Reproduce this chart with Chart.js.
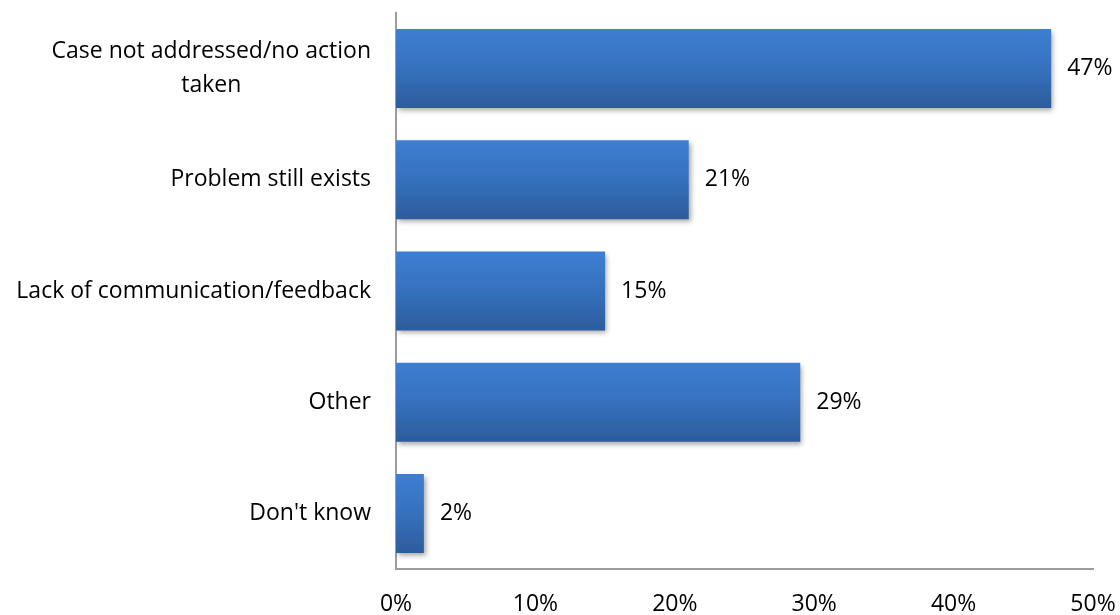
<!DOCTYPE html>
<html>
<head>
<meta charset="utf-8">
<script src="https://cdn.jsdelivr.net/npm/chart.js@4/dist/chart.umd.min.js"></script>
<style>
  html, body { margin: 0; padding: 0; background: #fff; }
  #wrap { width: 1120px; height: 615px; }
</style>
</head>
<body>
<div id="wrap"><canvas id="reasonsChart"></canvas></div>
<script>
var categories = [
  ['Case not addressed/no action', 'taken'],
  ['Problem still exists'],
  ['Lack of communication/feedback'],
  ['Other'],
  ["Don't know"]
];
var shares = [47, 21, 15, 29, 2];
var xTicks = [0, 10, 20, 30, 40, 50];

var FONT = "'Open Sans', 'Liberation Sans', sans-serif";
var FONT_SIZE = 23;
var BAR_PCT = 0.71;

function barGradient(context) {
  var chart = context.chart;
  var yScale = chart.scales.y;
  if (!yScale || !chart.chartArea) return '#3a74c2';
  var mid = yScale.getPixelForValue(context.dataIndex);
  var half = yScale.height / categories.length * BAR_PCT / 2;
  var g = chart.ctx.createLinearGradient(0, mid - half, 0, mid + half);
  g.addColorStop(0, '#3e7fd2');
  g.addColorStop(0.5, '#3671be');
  g.addColorStop(1, '#2d5c9b');
  return g;
}

// soft drop shadow under the bars
var barShadow = {
  id: 'barShadow',
  beforeDatasetsDraw: function(chart) {
    var ctx = chart.ctx;
    ctx.save();
    ctx.shadowColor = 'rgba(0,0,0,0.35)';
    ctx.shadowBlur = 5;
    ctx.shadowOffsetX = 2;
    ctx.shadowOffsetY = 3;
  },
  afterDatasetsDraw: function(chart) {
    chart.ctx.restore();
  }
};

// category names: each block centred line by line, block right-aligned to the axis
var categoryLabels = {
  id: 'categoryLabels',
  afterDraw: function(chart) {
    var ctx = chart.ctx;
    var yScale = chart.scales.y;
    var right = chart.chartArea.left - 25;
    var lineH = 34;
    ctx.save();
    ctx.font = FONT_SIZE + 'px ' + FONT;
    ctx.fillStyle = '#000';
    ctx.textAlign = 'center';
    ctx.textBaseline = 'middle';
    categories.forEach(function(lines, i) {
      var widest = 0;
      lines.forEach(function(l) { widest = Math.max(widest, ctx.measureText(l).width); });
      var cx = right - widest / 2;
      var cy = yScale.getPixelForValue(i);
      var y0 = cy - (lines.length - 1) * lineH / 2;
      lines.forEach(function(l, k) { ctx.fillText(l, cx, y0 + k * lineH); });
    });
    ctx.restore();
  }
};

// percentage printed just past the end of each bar
var valueLabels = {
  id: 'valueLabels',
  afterDatasetsDraw: function(chart) {
    var ctx = chart.ctx;
    var meta = chart.getDatasetMeta(0);
    ctx.save();
    ctx.font = FONT_SIZE + 'px ' + FONT;
    ctx.fillStyle = '#000';
    ctx.textAlign = 'left';
    ctx.textBaseline = 'middle';
    meta.data.forEach(function(bar, i) {
      ctx.fillText(shares[i] + '%', bar.x + 16, bar.y);
    });
    ctx.restore();
  }
};

var ctx = document.getElementById('reasonsChart').getContext('2d');
var reasonsChart = new Chart(ctx, {
  type: 'bar',
  data: {
    labels: categories.map(function(c) { return c.join(' '); }),
    datasets: [{
      data: shares,
      backgroundColor: barGradient,
      borderWidth: 0,
      categoryPercentage: 1,
      barPercentage: BAR_PCT
    }]
  },
  options: {
    indexAxis: 'y',
    responsive: true,
    maintainAspectRatio: false,
    animation: false,
    layout: { padding: { top: 13, right: 27, left: 0, bottom: 0 } },
    plugins: {
      legend: { display: false },
      tooltip: { enabled: false }
    },
    scales: {
      x: {
        min: 0,
        max: 50,
        afterBuildTicks: function(scale) {
          scale.ticks = xTicks.map(function(v) { return { value: v }; });
        },
        afterFit: function(scale) {
          scale.height = 46;
          scale.paddingLeft = 0;
          scale.paddingRight = 0;
        },
        grid: { display: false, drawTicks: false },
        border: { display: true, color: '#9c9c9c', width: 2 },
        ticks: {
          padding: 22,
          color: '#000',
          font: { family: FONT, size: FONT_SIZE },
          callback: function(v) { return v + '%'; }
        }
      },
      y: {
        afterFit: function(scale) { scale.width = 396; },
        grid: { display: false, drawTicks: false },
        border: { display: true, color: '#9c9c9c', width: 2 },
        ticks: { display: false }
      }
    }
  },
  plugins: [barShadow, categoryLabels, valueLabels]
});
</script>
</body>
</html>
